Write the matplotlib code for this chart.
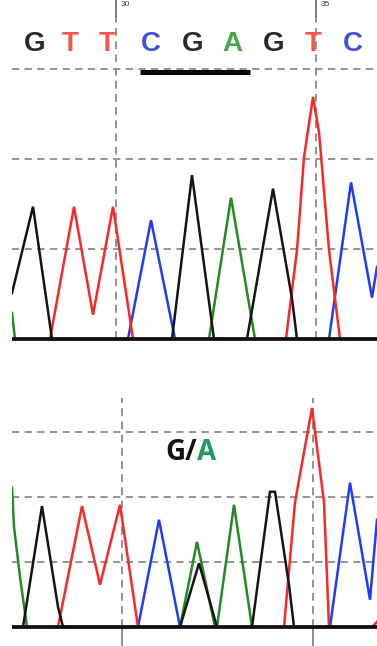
import matplotlib
matplotlib.use("Agg")
import matplotlib.pyplot as plt

# ---------------- data (x = scan position, y = signal in grid units) -------------
# top panel (reference / wild type)
top_bases = ["G", "T", "T", "C", "G", "A", "G", "T", "C"]
top_base_pos = [35, 70, 107, 151, 193, 232, 274, 313, 353]
top_G_x = [12, 33, 52, 172, 192, 214, 247, 273, 292, 297, 377]
top_G_y = [0.51, 1.47, 0, 0, 1.82, 0, 0, 1.67, 0.45, 0, 0]
top_T_x = [12, 50, 74, 93, 113, 133, 286, 297, 304, 313, 319, 329, 340, 377]
top_T_y = [0, 0, 1.47, 0.27, 1.47, 0, 0, 0.99, 2.02, 2.69, 2.3, 0.99, 0, 0]
top_C_x = [12, 128, 151, 175, 329, 351, 372, 377]
top_C_y = [0, 0, 1.32, 0, 0, 1.74, 0.46, 0.8]
top_A_x = [12, 15, 209, 231, 255, 377]
top_A_y = [0.29, 0, 0, 1.57, 0, 0]
top_marker_ticks = [116, 316]
top_marker_labels = ["30", "35"]
underline_span = [140, 250]

# bottom panel (heterozygous G/A)
bot_G_x = [12, 23, 42, 58, 63, 180, 199, 217, 252, 270, 275, 289, 294, 377]
bot_G_y = [0, 0, 1.86, 0.31, 0, 0, 0.98, 0, 0, 2.08, 2.08, 0.65, 0, 0]
bot_T_x = [12, 58, 82, 100, 120, 138, 284, 295, 312, 324, 329, 372, 377]
bot_T_y = [0, 0, 1.86, 0.65, 1.88, 0, 0, 1.92, 3.37, 1.92, 0, 0, 0.08]
bot_C_x = [12, 138, 159, 180, 330, 350, 370, 377]
bot_C_y = [0, 0, 1.65, 0, 0, 2.22, 0.42, 1.65]
bot_A_x = [12, 14, 20, 27, 180, 197, 215, 217, 234, 252, 377]
bot_A_y = [2.14, 1.54, 0.77, 0, 0, 1.31, 0, 0, 1.88, 0, 0]
bot_marker_ticks = [122, 313]
call_label = ["G/", "A"]

# ---------------- styles -------------
W, H = 377, 646
COL = {"G": "#151515", "T": "#ff2626", "C": "#1f3bff", "A": "#228b22"}
LETTER_COL = {"G": "#2a2a2a", "T": "#f0584e", "C": "#4050e0", "A": "#45a84a"}
GRID = "#8c8c8c"
TRACE_LW = 1.8

fig = plt.figure(figsize=(W / 100, H / 100), dpi=100)
fig.patch.set_facecolor("white")


def make_ax(top_px, bot_px, base_px, unit_px):
    ax = fig.add_axes([12 / W, 1 - bot_px / H, 1 - 12 / W, (bot_px - top_px) / H])
    ax.set_xlim(12, 377)
    ax.set_ylim(-(bot_px - base_px) / unit_px, (base_px - top_px) / unit_px)
    ax.axis("off")
    return ax


def grid(ax, vx, ytop):
    for g in (1, 2, 3):
        ax.axhline(g, color=GRID, lw=1.3, dashes=(4.0, 3.0), zorder=1)
    for x in vx:
        ax.plot([x, x], [0, ytop], color=GRID, lw=1.3, dashes=(4.3, 3.0), zorder=1)


def traces(ax, chans):
    for key, xs, ys in chans:
        ax.plot(xs, ys, color=COL[key], lw=TRACE_LW, solid_joinstyle="miter", zorder=3)
    ax.axhline(0, color="#111111", lw=2.6, zorder=5)


# top panel
ax1 = make_ax(0, 345, 339, 90)
ytop1 = ax1.get_ylim()[1]
grid(ax1, top_marker_ticks, ytop1)
for x in top_marker_ticks:
    ax1.plot([x, x], [ytop1 - 17 / 90, ytop1], color="#777777", lw=1.3, zorder=1)
traces(ax1, [("A", top_A_x, top_A_y), ("C", top_C_x, top_C_y),
             ("T", top_T_x, top_T_y), ("G", top_G_x, top_G_y)])
for b, x in zip(top_bases, top_base_pos):
    ax1.text(x, 3.28, b, color=LETTER_COL[b], fontsize=20, fontweight="bold",
             family="Liberation Sans", ha="center", va="center", zorder=6)
ax1.plot(underline_span, [2.97, 2.97], color="#0a0a0a", lw=3.6, solid_capstyle="butt", zorder=6)
for x, lab in zip(top_marker_ticks, top_marker_labels):
    fig.text((x + 5) / W, 1 - 1 / H, lab, fontsize=6, color="#444444",
             ha="left", va="top", family="Liberation Sans")

# bottom panel
ax2 = make_ax(398, 646, 627, 65)
ylo2, ytop2 = ax2.get_ylim()
grid(ax2, bot_marker_ticks, ytop2)
for x in bot_marker_ticks:
    ax2.plot([x, x], [ylo2, 0], color="#8c8c8c", lw=1.4, zorder=1)
traces(ax2, [("A", bot_A_x, bot_A_y), ("C", bot_C_x, bot_C_y),
             ("T", bot_T_x, bot_T_y), ("G", bot_G_x, bot_G_y)])
ax2.text(197, 2.68, call_label[0], color="#111111", fontsize=20, fontweight="bold",
         family="Open Sans", ha="right", va="center", zorder=6)
ax2.text(197, 2.68, call_label[1], color="#1e9e5a", fontsize=20, fontweight="bold",
         family="Open Sans", ha="left", va="center", zorder=6)

fig.savefig("out.png", dpi=100, facecolor="white")
